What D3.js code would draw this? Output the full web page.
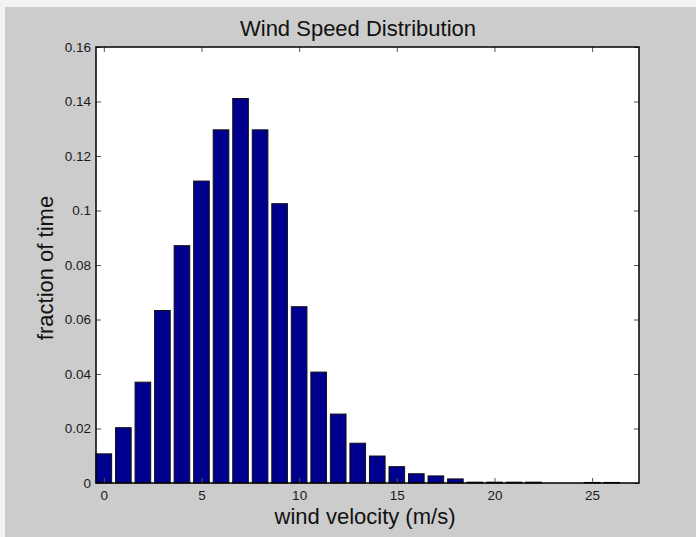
<!DOCTYPE html>
<html lang="en">
<head>
<meta charset="utf-8">
<title>Wind Speed Distribution</title>
<script src="https://cdn.jsdelivr.net/npm/d3@7"></script>
<style>
  html, body { margin: 0; padding: 0; background: #f3f3f3; }
  svg text { font-family: "Liberation Sans", Arial, sans-serif; }
  .tick text { font-size: 13.5px; fill: #1a1a1a; }
  .tick line { stroke: #555; }
</style>
</head>
<body>
<div id="chart"></div>
<script>
// wind speed bins (m/s) and fraction of time in each
var speeds = [0,1,2,3,4,5,6,7,8,9,10,11,12,13,14,15,16,17,18,19,20,21,22,23,24,25,26];
var fractions = [0.0107, 0.0203, 0.0370, 0.0633, 0.0871, 0.1108, 0.1296, 0.1411, 0.1296, 0.1025,
                 0.0647, 0.0407, 0.0253, 0.0146, 0.0099, 0.0060, 0.0034, 0.0026, 0.0015, 0.0003,
                 0.0003, 0.0003, 0.0003, 0, 0, 0.0002, 0.0002];
var xTicks = [0, 5, 10, 15, 20, 25];
var yTicks = [0, 0.02, 0.04, 0.06, 0.08, 0.1, 0.12, 0.14, 0.16];

var W = 696, H = 537;
var margin = {top: 47, right: 57, bottom: 54, left: 96};
var width = W - margin.left - margin.right,
    height = H - margin.top - margin.bottom;

var svg = d3.select("#chart").append("svg")
    .attr("width", W)
    .attr("height", H);

// grey figure background, light strip on top/left like the screenshot
svg.append("rect")
   .attr("x", 5).attr("y", 7)
   .attr("width", W - 5).attr("height", H - 7)
   .attr("fill", "#cccccc");

var chart = svg.append("g")
    .attr("transform", "translate(" + margin.left + "," + margin.top + ")");

chart.append("rect")
     .attr("width", width).attr("height", height)
     .attr("fill", "white");

var x = d3.scaleLinear().domain([-0.4, 27.4]).range([0, width]);
var y = d3.scaleLinear().domain([0, 0.16]).range([height, 0]);
var barW = x(0.8) - x(0);

chart.selectAll("rect.bar")
     .data(speeds)
     .enter()
     .append("rect")
     .attr("class", "bar")
     .attr("x", function(d) { return x(d) - barW / 2; })
     .attr("y", function(d, i) { return y(fractions[i]); })
     .attr("width", barW)
     .attr("height", function(d, i) { return height - y(fractions[i]); })
     .attr("fill", function(d, i) { return fractions[i] > 0 ? "#00008f" : "none"; })
     .attr("stroke", function(d, i) { return fractions[i] > 0 ? "#111" : "none"; })
     .attr("stroke-width", 1);

var fmt = function(d) { return d === 0 ? "0" : String(+d.toFixed(2)); };

// ticks point inward, matlab style
var xAxis = d3.axisBottom(x).tickValues(xTicks).tickSize(-5).tickPadding(7);
var yAxis = d3.axisLeft(y).tickValues(yTicks).tickFormat(fmt).tickSize(-5).tickPadding(5);

chart.append("g")
     .attr("transform", "translate(0," + height + ")")
     .call(xAxis);
chart.append("g").call(yAxis);
chart.append("g")
     .call(d3.axisTop(x).tickValues(xTicks).tickSize(-5).tickFormat(""));
chart.append("g")
     .attr("transform", "translate(" + width + ",0)")
     .call(d3.axisRight(y).tickValues(yTicks).tickSize(-5).tickFormat(""));

chart.selectAll(".domain").remove();

// axes box
chart.append("rect")
     .attr("width", width).attr("height", height)
     .attr("fill", "none")
     .attr("stroke", "black")
     .attr("stroke-width", 1.5);

svg.append("text")
   .attr("x", 358).attr("y", 36)
   .attr("text-anchor", "middle")
   .attr("font-size", "22px")
   .attr("fill", "#111")
   .text("Wind Speed Distribution");

svg.append("text")
   .attr("x", 365).attr("y", 524)
   .attr("text-anchor", "middle")
   .attr("font-size", "22px")
   .attr("fill", "#111")
   .text("wind velocity (m/s)");

svg.append("text")
   .attr("transform", "translate(53,268) rotate(-90)")
   .attr("text-anchor", "middle")
   .attr("font-size", "22px")
   .attr("fill", "#111")
   .text("fraction of time");
</script>
</body>
</html>
